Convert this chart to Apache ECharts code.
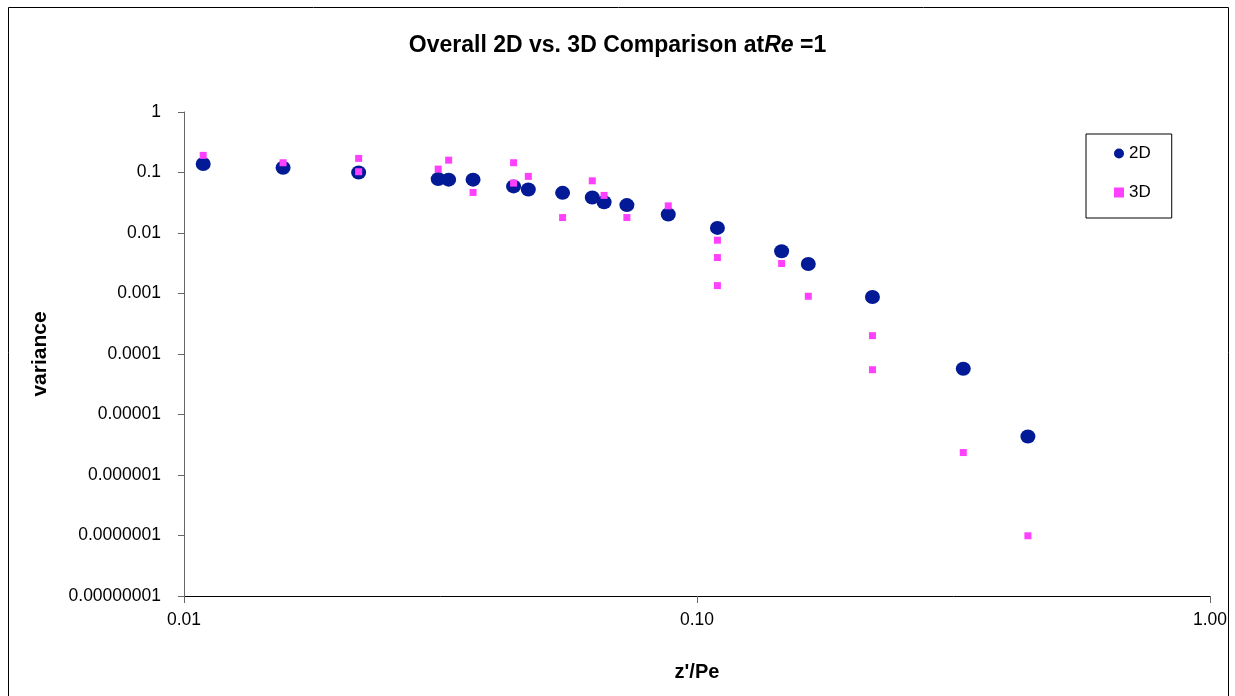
<!DOCTYPE html>
<html>
<head>
<meta charset="utf-8">
<title>Overall 2D vs. 3D Comparison</title>
<script src="https://cdn.jsdelivr.net/npm/echarts@6/dist/echarts.min.js"></script>
<style>
  html, body { margin: 0; padding: 0; background: #fff; }
  #main { width: 1235px; height: 696px; }
</style>
</head>
<body>
<div id="main"></div>
<script>
// 2D results (z'/Pe, variance)
const x2D = [0.0109, 0.0156, 0.0219, 0.0313, 0.0328, 0.0366, 0.0439, 0.0469, 0.0547, 0.0625,
  0.0659, 0.0730, 0.0879, 0.1096, 0.1462, 0.1648, 0.2198, 0.3304, 0.4416]
const y2D = [0.138, 0.120, 0.100, 0.0778, 0.0762, 0.0762, 0.0589, 0.0525, 0.0461, 0.0387,
  0.0323, 0.0289, 0.0202, 0.01215, 0.0050, 0.00308, 0.000875, 0.0000571, 0.00000432]

// 3D results
const x3D = [0.0109, 0.0156, 0.0219, 0.0219, 0.0313, 0.0328, 0.0366, 0.0439, 0.0439, 0.0469,
  0.0547, 0.0625, 0.0659, 0.0730, 0.0879, 0.1096, 0.1096, 0.1096, 0.1462, 0.1648,
  0.2198, 0.2198, 0.3304, 0.4416]
const y3D = [0.192, 0.145, 0.103, 0.171, 0.114, 0.160, 0.0468, 0.0668, 0.145, 0.0862,
  0.0180, 0.0729, 0.0418, 0.0180, 0.0281, 0.0076, 0.00393, 0.00135, 0.00313, 0.0009,
  0.000201, 0.000055, 0.00000235, 0.000000099]

const xTickLabels = ['0.01', '0.10', '1.00']
const yTickLabels = ['1', '0.1', '0.01', '0.001', '0.0001', '0.00001', '0.000001', '0.0000001', '0.00000001']

const font = 'Liberation Sans, Arial, sans-serif'
const pairs = (xs, ys) => xs.map((x, i) => [x, ys[i]])

const chart = echarts.init(document.getElementById('main'))
const option = {
  backgroundColor: '#fff',
  animation: false,
  graphic: [
    {
      type: 'rect',
      shape: { x: 8.5, y: 7.5, width: 1220, height: 700 },
      style: { fill: 'none', stroke: '#000', lineWidth: 1 },
      silent: true
    }
  ],
  title: {
    text: '{a|Overall 2D vs. 3D Comparison at}{b|Re}{a| =1}',
    left: 'center',
    top: 29,
    textStyle: {
      rich: {
        a: { fontFamily: font, fontSize: 23, fontWeight: 'bold', color: '#000' },
        b: { fontFamily: font, fontSize: 23, fontWeight: 'bold', fontStyle: 'italic', color: '#000' }
      }
    }
  },
  legend: {
    orient: 'vertical',
    left: 1086,
    top: 134,
    padding: [11, 21, 17, 28],
    itemGap: 22,
    itemWidth: 10,
    itemHeight: 10,
    borderColor: '#000',
    borderWidth: 1,
    textStyle: { fontFamily: font, fontSize: 17, color: '#000' },
    data: ['2D', '3D']
  },
  grid: { left: 184, right: 25, top: 112, bottom: 100 },
  xAxis: {
    type: 'log',
    logBase: 10,
    min: 0.01,
    max: 1,
    interval: 1,
    name: "z'/Pe",
    nameLocation: 'middle',
    nameGap: 66,
    nameTextStyle: { fontFamily: font, fontSize: 20, fontWeight: 'bold', color: '#000' },
    axisLine: { lineStyle: { color: '#000', width: 1 } },
    axisTick: { show: true, length: 7, lineStyle: { color: '#666' } },
    minorTick: { show: false },
    splitLine: { show: false },
    axisLabel: {
      fontFamily: font,
      fontSize: 17.5,
      color: '#000',
      margin: 15,
      formatter: v => xTickLabels[Math.round(Math.log10(v) + 2)]
    }
  },
  yAxis: {
    type: 'log',
    logBase: 10,
    min: 1e-8,
    max: 1,
    interval: 1,
    name: 'variance',
    nameLocation: 'middle',
    nameGap: 133,
    nameRotate: 90,
    nameTextStyle: { fontFamily: font, fontSize: 21, fontWeight: 'bold', color: '#000' },
    axisLine: { lineStyle: { color: '#666', width: 1 } },
    axisTick: { show: true, length: 6, lineStyle: { color: '#666' } },
    splitLine: { show: false },
    axisLabel: {
      fontFamily: font,
      fontSize: 17.5,
      color: '#000',
      margin: 23,
      formatter: v => yTickLabels[Math.round(-Math.log10(v))]
    }
  },
  series: [
    {
      name: '2D',
      type: 'scatter',
      symbol: 'circle',
      symbolSize: [15, 14],
      itemStyle: { color: '#031a96', opacity: 1 },
      data: pairs(x2D, y2D),
      z: 2
    },
    {
      name: '3D',
      type: 'scatter',
      symbol: 'rect',
      symbolSize: 7,
      itemStyle: { color: '#ff40ff', opacity: 1 },
      data: pairs(x3D, y3D),
      z: 3
    }
  ]
}
chart.setOption(option)
</script>
</body>
</html>
